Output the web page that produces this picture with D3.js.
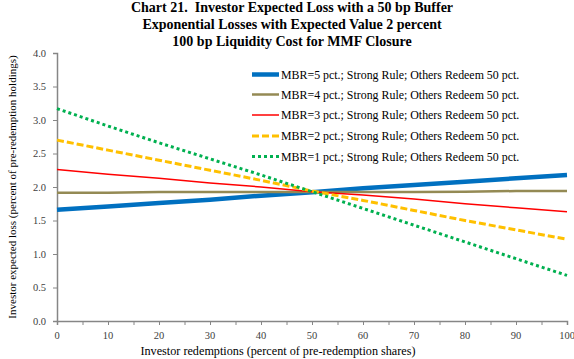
<!DOCTYPE html>
<html><head><meta charset="utf-8">
<script src="https://cdn.jsdelivr.net/npm/d3@7"></script>
<style>body{margin:0;background:#fff}svg{display:block}text{white-space:pre}</style>
</head><body>
<svg id="c" width="574" height="359"></svg>
<script>
const titleLines = ["Chart 21.  Investor Expected Loss with a 50 bp Buffer","Exponential Losses with Expected Value 2 percent","100 bp Liquidity Cost for MMF Closure"];
const xValues = [0,10,20,30,40,50,60,70,80,90,100];
const mbr5 = [1.66,1.71,1.76,1.81,1.87,1.92,1.98,2.03,2.08,2.13,2.18];
const mbr4 = [1.915,1.915,1.925,1.925,1.925,1.925,1.925,1.925,1.93,1.94,1.94];
const mbr3 = [2.26,2.19,2.13,2.06,2.00,1.93,1.88,1.82,1.75,1.69,1.63];
const mbr2 = [2.70,2.55,2.40,2.25,2.10,1.94,1.80,1.65,1.50,1.36,1.22];
const mbr1 = [3.17,2.91,2.66,2.42,2.18,1.93,1.68,1.43,1.18,0.93,0.68];
const seriesNames = ["MBR=5 pct.; Strong Rule; Others Redeem 50 pct.","MBR=4 pct.; Strong Rule; Others Redeem 50 pct.","MBR=3 pct.; Strong Rule; Others Redeem 50 pct.","MBR=2 pct.; Strong Rule; Others Redeem 50 pct.","MBR=1 pct.; Strong Rule; Others Redeem 50 pct."];
const yTicks = [0,0.5,1,1.5,2,2.5,3,3.5,4];
const xTicks = [0,10,20,30,40,50,60,70,80,90,100];
const xLabel = "Investor redemptions (percent of pre-redemption shares)";
const yLabel = "Investor expected loss (percent of pre-redemption holdings)";

const styles = [
  {color:"#0070C0", w:4.5, dash:null},
  {color:"#948A54", w:2.5, dash:null},
  {color:"#FF0000", w:1.5, dash:null},
  {color:"#FFC000", w:3, dash:"7,3"},
  {color:"#00B050", w:3, dash:"3,3"}
];
const allSeries = [mbr5,mbr4,mbr3,mbr2,mbr1];
const font = "'Liberation Serif', serif";
const svg = d3.select("#c");
const x = d3.scaleLinear().domain([0,100]).range([57,567]);
const y = d3.scaleLinear().domain([0,4]).range([321,53]);

// title
svg.append("g").selectAll("text").data(titleLines).join("text")
  .attr("x",292).attr("y",(d,i)=>12+i*17).attr("text-anchor","middle")
  .attr("font-family",font).attr("font-weight","bold").attr("font-size",14).attr("fill","#000").text(d=>d);

// axes
const axisColor = "#868686";
const xa = svg.append("g").attr("transform","translate(0,321)")
  .call(d3.axisBottom(x).tickValues(d3.range(0,101,5)).tickSize(4).tickFormat(""));
const ya = svg.append("g").attr("transform","translate(57,0)")
  .call(d3.axisLeft(y).tickValues(yTicks).tickSize(4).tickFormat(""));
[xa,ya].forEach(a=>{a.selectAll("path").attr("stroke",axisColor).attr("stroke-width",1.5);a.selectAll("line").attr("stroke",axisColor).attr("stroke-width",1);});

svg.append("g").selectAll("text").data(xTicks).join("text")
  .attr("x",d=>x(d)).attr("y",339).attr("text-anchor","middle")
  .attr("font-family",font).attr("font-size",10.5).attr("fill","#404040").text(d=>d);
svg.append("g").selectAll("text").data(yTicks).join("text")
  .attr("x",46).attr("y",d=>y(d)+3.5).attr("text-anchor","end")
  .attr("font-family",font).attr("font-size",10.5).attr("fill","#404040").text(d=>d.toFixed(1));

svg.append("text").attr("x",278).attr("y",355).attr("text-anchor","middle")
  .attr("font-family",font).attr("font-size",12.2).attr("fill","#000").text(xLabel);
svg.append("text").attr("transform","translate(16,187) rotate(-90)").attr("text-anchor","middle")
  .attr("font-family",font).attr("font-size",11).attr("fill","#000").text(yLabel);

// lines
const line = d3.line().x((d,i)=>x(xValues[i])).y(d=>y(d));
svg.append("g").selectAll("path").data(allSeries).join("path")
  .attr("d",d=>line(d)).attr("fill","none")
  .attr("stroke",(d,i)=>styles[i].color).attr("stroke-width",(d,i)=>styles[i].w)
  .attr("stroke-dasharray",(d,i)=>styles[i].dash);

// legend
const lg = svg.append("g");
const ly = [74.5,94.5,115,136,156.5];
seriesNames.forEach((n,i)=>{
  lg.append("line").attr("x1",252).attr("x2",279).attr("y1",ly[i]).attr("y2",ly[i])
    .attr("stroke",styles[i].color).attr("stroke-width",styles[i].w).attr("stroke-dasharray",styles[i].dash);
  lg.append("text").attr("x",281).attr("y",ly[i]+4).attr("font-family",font).attr("font-size",11.9)
    .attr("fill","#000").text(n);
});
</script>
</body></html>
